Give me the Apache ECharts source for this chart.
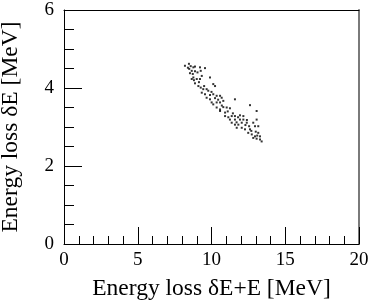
<!DOCTYPE html>
<html><head><meta charset="utf-8">
<script src="https://cdn.jsdelivr.net/npm/echarts@6/dist/echarts.min.js"></script>
<style>html,body{margin:0;padding:0;background:#fff}#c{width:374px;height:308px}</style>
</head><body><div id="c"></div>
<script>
const xTitle = 'Energy loss δE+E [MeV]';
const yTitle = 'Energy loss δE [MeV]';
const xRange = [0, 20];
const yRange = [0, 6];
const points = [[8.20,4.57],[8.47,4.62],[8.59,4.56],[8.77,4.53],[8.88,4.55],[9.22,4.53],[9.56,4.51],[8.49,4.49],[8.66,4.44],[8.88,4.43],[9.27,4.44],[8.54,4.38],[8.73,4.36],[8.77,4.27],[8.66,4.23],[8.81,4.20],[9.00,4.23],[9.22,4.23],[9.34,4.31],[9.90,4.27],[8.88,4.12],[9.11,4.05],[9.27,4.01],[9.44,3.97],[9.67,3.97],[10.12,4.10],[10.24,4.05],[9.78,3.93],[9.34,3.88],[9.56,3.84],[9.90,3.82],[10.12,3.84],[10.35,3.80],[10.58,3.80],[10.69,3.75],[9.67,3.75],[9.90,3.71],[10.24,3.74],[10.01,3.63],[10.12,3.58],[10.35,3.63],[10.58,3.63],[10.80,3.67],[11.59,3.71],[10.35,3.50],[10.58,3.45],[10.80,3.51],[11.03,3.50],[11.25,3.48],[10.58,3.41],[10.92,3.37],[12.61,3.56],[13.06,3.41],[10.92,3.28],[11.14,3.25],[11.37,3.28],[11.59,3.28],[11.93,3.30],[12.16,3.28],[11.25,3.19],[11.59,3.19],[11.93,3.19],[12.16,3.19],[13.06,3.19],[11.37,3.11],[11.59,3.06],[11.82,3.06],[12.05,3.11],[12.39,3.11],[12.83,3.11],[11.71,2.98],[12.05,2.98],[12.27,2.94],[12.61,2.94],[12.95,3.02],[13.17,3.02],[12.49,2.85],[12.73,2.81],[12.95,2.76],[13.17,2.85],[13.29,2.76],[12.83,2.72],[13.06,2.70],[13.29,2.68],[13.40,2.63],[8.40,4.52],[9.05,4.40],[9.15,4.15],[9.50,4.05],[10.00,3.90],[10.45,3.70],[10.70,3.55],[11.10,3.40],[11.45,3.35],[11.80,3.25],[12.30,3.05],[12.55,3.02],[12.70,2.90],[13.00,2.88],[13.10,2.78],[12.40,3.18],[11.70,3.12]];
const font = 'Liberation Serif';
const chart = echarts.init(document.getElementById('c'), null, {renderer: 'canvas'});
const lineBlack = {show: true, onZero: false, lineStyle: {color: '#000', width: 1}};
chart.setOption({
  animation: false,
  grid: {left: 64, right: 15, top: 10, bottom: 64, containLabel: false, outerBoundsMode: 'none'},
  xAxis: [{
    type: 'value', min: xRange[0], max: xRange[1], interval: 5,
    name: xTitle, nameLocation: 'middle', nameGap: 33,
    nameTextStyle: {fontFamily: font, fontSize: 23.5, color: '#000'},
    axisLine: lineBlack,
    axisTick: {show: true, inside: true, length: 17, lineStyle: {color: '#000'}},
    minorTick: {show: true, splitNumber: 5, length: 8, lineStyle: {color: '#000'}},
    axisLabel: {fontFamily: font, fontSize: 19, color: '#000', margin: 7},
    splitLine: {show: false}
  }, {
    type: 'value', position: 'top', min: xRange[0], max: xRange[1],
    axisLine: lineBlack, axisTick: {show: false}, axisLabel: {show: false}, splitLine: {show: false}
  }],
  yAxis: [{
    type: 'value', min: yRange[0], max: yRange[1], interval: 2,
    name: yTitle, nameLocation: 'middle', nameGap: 41,
    nameTextStyle: {fontFamily: font, fontSize: 23.5, color: '#000'},
    axisLine: lineBlack,
    axisTick: {show: true, inside: true, length: 18, lineStyle: {color: '#000'}},
    minorTick: {show: true, splitNumber: 4, length: 10, lineStyle: {color: '#000'}},
    axisLabel: {fontFamily: font, fontSize: 19, color: '#000', margin: 10},
    splitLine: {show: false}
  }, {
    type: 'value', position: 'right', min: yRange[0], max: yRange[1],
    axisLine: {show: true, onZero: false, lineStyle: {color: '#7a7a7a', width: 2}},
    axisTick: {show: false}, axisLabel: {show: false}, splitLine: {show: false}
  }],
  series: [{
    type: 'scatter', data: points, symbol: 'rect', symbolSize: 2,
    itemStyle: {color: '#000'}
  }]
});
</script></body></html>
